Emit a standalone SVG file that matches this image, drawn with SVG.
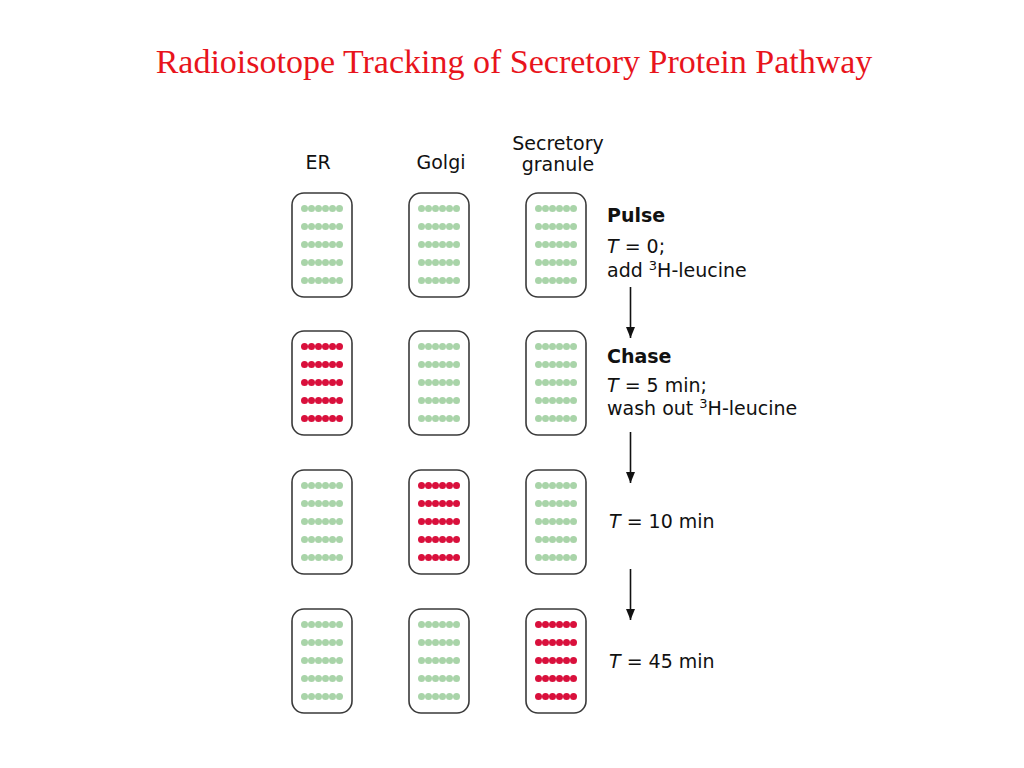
<svg xmlns="http://www.w3.org/2000/svg" xmlns:xlink="http://www.w3.org/1999/xlink" width="1024" height="768" viewBox="0 0 1024 768">
<style>
.box{fill:#fff;stroke:#3a3a3a;stroke-width:1.6}
.g{fill:#a9d4a9}
.r{fill:#d9103c}
.lbl{font-family:"DejaVu Sans","Liberation Sans",sans-serif;font-size:19px;fill:#111}
.hd{text-anchor:middle}
.b{font-weight:bold}
.it{font-style:italic}
.sup{font-size:13px}
.title{font-family:"Liberation Serif","Times New Roman",serif;font-size:34px;fill:#e8141c;text-anchor:middle}
.arr{stroke:#111;stroke-width:1.6;fill:none}
</style>
<defs>
<g id="row">
<circle cx="12.5" cy="0" r="3.5"/><circle cx="19.5" cy="0" r="3.5"/><circle cx="26.5" cy="0" r="3.5"/><circle cx="33.5" cy="0" r="3.5"/><circle cx="40.5" cy="0" r="3.5"/><circle cx="47.5" cy="0" r="3.5"/>
</g>
<g id="dots">
<use xlink:href="#row" y="15.5"/><use xlink:href="#row" y="33.5"/><use xlink:href="#row" y="51.5"/><use xlink:href="#row" y="69.5"/><use xlink:href="#row" y="87.5"/>
</g>
<g id="cell"><rect class="box" x="0" y="0" width="60" height="104" rx="12"/></g>
<marker id="ah" markerWidth="11" markerHeight="9" refX="11" refY="4.5" orient="auto" markerUnits="userSpaceOnUse" viewBox="0 0 11 9">
<path d="M0,0 L11,4.5 L0,9 Z" fill="#111"/>
</marker>
</defs>
<text class="title" x="514" y="73">Radioisotope Tracking of Secretory Protein Pathway</text>
<g id="headers">
<text class="lbl hd" x="318" y="169">ER</text>
<text class="lbl hd" x="441" y="169">Golgi</text>
<text class="lbl hd" x="558" y="150">Secretory</text>
<text class="lbl hd" x="558" y="171">granule</text>
</g>
<g id="er-t0" transform="translate(292,193)"><use xlink:href="#cell"/><use xlink:href="#dots" class="g"/></g>
<g id="golgi-t0" transform="translate(409,193)"><use xlink:href="#cell"/><use xlink:href="#dots" class="g"/></g>
<g id="granule-t0" transform="translate(526,193)"><use xlink:href="#cell"/><use xlink:href="#dots" class="g"/></g>
<g id="er-t5" transform="translate(292,331)"><use xlink:href="#cell"/><use xlink:href="#dots" class="r"/></g>
<g id="golgi-t5" transform="translate(409,331)"><use xlink:href="#cell"/><use xlink:href="#dots" class="g"/></g>
<g id="granule-t5" transform="translate(526,331)"><use xlink:href="#cell"/><use xlink:href="#dots" class="g"/></g>
<g id="er-t10" transform="translate(292,470)"><use xlink:href="#cell"/><use xlink:href="#dots" class="g"/></g>
<g id="golgi-t10" transform="translate(409,470)"><use xlink:href="#cell"/><use xlink:href="#dots" class="r"/></g>
<g id="granule-t10" transform="translate(526,470)"><use xlink:href="#cell"/><use xlink:href="#dots" class="g"/></g>
<g id="er-t45" transform="translate(292,609)"><use xlink:href="#cell"/><use xlink:href="#dots" class="g"/></g>
<g id="golgi-t45" transform="translate(409,609)"><use xlink:href="#cell"/><use xlink:href="#dots" class="g"/></g>
<g id="granule-t45" transform="translate(526,609)"><use xlink:href="#cell"/><use xlink:href="#dots" class="r"/></g>
<g id="step-pulse">
<text class="lbl b" x="607" y="222">Pulse</text>
<text class="lbl" x="607" y="253"><tspan class="it">T</tspan> = 0;</text>
<text class="lbl" x="607" y="277">add <tspan class="sup" dy="-7">3</tspan><tspan dy="7">H-leucine</tspan></text>
</g>
<g id="step-chase">
<text class="lbl b" x="607" y="363">Chase</text>
<text class="lbl" x="607" y="392"><tspan class="it">T</tspan> = 5 min;</text>
<text class="lbl" x="607" y="415">wash out <tspan class="sup" dy="-7">3</tspan><tspan dy="7">H-leucine</tspan></text>
</g>
<g id="step-t10"><text class="lbl" x="609" y="528"><tspan class="it">T</tspan> = 10 min</text></g>
<g id="step-t45"><text class="lbl" x="609" y="668"><tspan class="it">T</tspan> = 45 min</text></g>
<g id="connectors">
<line class="arr" x1="630.5" y1="287" x2="630.5" y2="338" marker-end="url(#ah)"/>
<line class="arr" x1="630.5" y1="432" x2="630.5" y2="483" marker-end="url(#ah)"/>
<line class="arr" x1="630.5" y1="569" x2="630.5" y2="620" marker-end="url(#ah)"/>
</g>
</svg>
